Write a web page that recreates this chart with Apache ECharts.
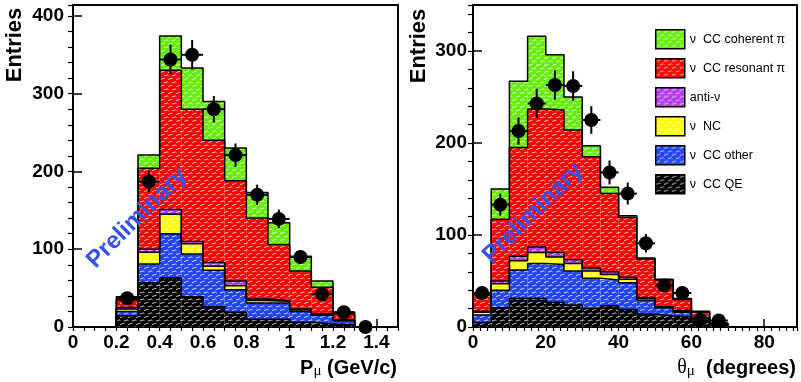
<!DOCTYPE html>
<html>
<head>
<meta charset="utf-8">
<script src="https://cdn.jsdelivr.net/npm/echarts@6/dist/echarts.min.js"></script>
<style>
html, body { margin: 0; padding: 0; background: #fff; }
#main { width: 801px; height: 382px; }
</style>
</head>
<body>
<div id="main"></div>
<script>
// ---- muon momentum (left panel), bin lower edges in GeV/c ----
var pBins = [0.2, 0.3, 0.4, 0.5, 0.6, 0.7, 0.8, 0.9, 1.0, 1.1, 1.2, 1.3];
var pBinWidth = 0.1;
var pQE       = [14, 57, 63, 39, 26, 19, 10, 10, 6, 4, 3, 0];
var pOther    = [6, 24, 57, 55, 47, 29, 21, 21, 14, 11, 5, 0];
var pNC       = [3, 15, 25, 13, 5, 5, 3, 2, 2, 1, 1, 0];
var pAnti     = [2, 4, 6, 3, 5, 6, 2, 1, 1, 1, 0, 0];
var pRes      = [10, 104, 179, 170, 157, 129, 104, 72, 49, 34, 8, 0];
var pCoh      = [4, 17, 44, 53, 50, 42, 33, 28, 19, 8, 2, 0];
var pData     = [37, 187, 344, 350, 280, 221, 170, 139, 90, 42, 19, 0];
var pErr      = [6, 14, 19, 19, 17, 15, 13, 12, 9, 6, 4, 0];

// ---- muon angle (right panel), bin lower edges in degrees ----
var tBins = [0, 5, 10, 15, 20, 25, 30, 35, 40, 45, 50, 55, 60, 65];
var tBinWidth = 5;
var tQE       = [5, 21, 31, 31, 27, 24, 20, 23, 19, 14, 12, 11, 6, 2];
var tOther    = [8, 19, 31, 38, 41, 37, 33, 28, 29, 15, 9, 5, 3, 1];
var tNC       = [3, 7, 10, 12, 8, 8, 8, 6, 4, 2, 1, 1, 1, 0];
var tAnti     = [1, 3, 5, 6, 5, 4, 3, 3, 2, 1, 0, 1, 0, 0];
var tRes      = [18, 67, 118, 150, 155, 141, 121, 85, 65, 42, 29, 12, 6, 1];
var tCoh      = [0, 33, 72, 79, 60, 36, 12, 7, 2, 1, 1, 1, 1, 0];
var tData     = [37, 133, 213, 243, 263, 262, 225, 168, 145, 91, 45, 37, 8, 7];
var tErr      = [6, 12, 15, 16, 16, 16, 15, 13, 12, 10, 7, 6, 3, 3];

// stacking order, bottom to top
var layerNames  = ['ν  CC QE', 'ν  CC other', 'ν  NC', 'anti-ν', 'ν  CC resonant π', 'ν  CC coherent π'];
var layerColors = ['#000000', '#2244ff', '#ffff00', '#b43cf0', '#ff0000', '#66ee08'];

var FONT = '"Liberation Sans", Arial, Helvetica, sans-serif';

var chartDom = document.getElementById('main');
var myChart = echarts.init(chartDom);

// ROOT-like hatched fill: solid colour with short white dashes
function hatchPattern(color) {
	var c = document.createElement('canvas');
	c.width = 8;
	c.height = 7;
	var ctx = c.getContext('2d');
	ctx.fillStyle = color;
	ctx.fillRect(0, 0, 8, 7);
	ctx.strokeStyle = 'rgba(255,255,255,0.75)';
	ctx.lineWidth = 1;
	ctx.beginPath();
	ctx.moveTo(0, 2.5); ctx.lineTo(4.5, 1.2);
	ctx.moveTo(4, 6); ctx.lineTo(8.5, 4.7);
	ctx.moveTo(-0.5, 6.2); ctx.lineTo(0.5, 5.9);
	ctx.stroke();
	return { image: c, repeat: 'repeat' };
}
var layerFills = layerColors.map(hatchPattern);

function errRender(params, api) {
	var x = api.value(0), y = api.value(1), e = api.value(2), hw = api.value(3);
	var top = api.coord([x, y + e]), bot = api.coord([x, y - e]);
	var l = api.coord([x - hw, y]), r = api.coord([x + hw, y]);
	var st = { stroke: '#000', lineWidth: 2 };
	return {
		type: 'group',
		children: [
			{ type: 'line', shape: { x1: top[0], y1: top[1], x2: bot[0], y2: bot[1] }, style: st },
			{ type: 'line', shape: { x1: l[0], y1: l[1], x2: r[0], y2: r[1] }, style: st }
		]
	};
}

function makeRectRender(fill) {
	return function (params, api) {
		var a = api.coord([api.value(0), api.value(3)]);
		var b = api.coord([api.value(1), api.value(2)]);
		return {
			type: 'rect',
			shape: { x: a[0], y: a[1], width: b[0] - a[0], height: b[1] - a[1] },
			style: { fill: fill }
		};
	};
}

function histSeries(g, bins, w, layers, data, err) {
	var out = [];
	var xi = g * 2, yi = g * 2;
	var cum = bins.map(function () { return 0; });
	layers.forEach(function (vals, k) {
		var base = cum.slice();
		cum = cum.map(function (c, i) { return c + vals[i]; });
		out.push({
			type: 'custom',
			name: layerNames[k],
			xAxisIndex: xi,
			yAxisIndex: yi,
			z: 2,
			silent: true,
			itemStyle: { color: layerFills[k], borderColor: '#000', borderWidth: 1.5 },
			encode: { x: [0, 1], y: [2, 3] },
			renderItem: makeRectRender(layerFills[k]),
			data: bins.map(function (b, i) { return [b, b + w, base[i], cum[i]]; })
		});
		// step outline of the cumulative histogram
		var pts = [[bins[0], 0]];
		bins.forEach(function (b, i) {
			pts.push([b, cum[i]]);
			pts.push([b + w, cum[i]]);
		});
		pts.push([bins[bins.length - 1] + w, 0]);
		out.push({
			type: 'line',
			xAxisIndex: xi,
			yAxisIndex: yi,
			z: 3,
			silent: true,
			symbol: 'none',
			lineStyle: { color: '#000', width: 1.5 },
			data: pts
		});
	});
	out.push({
		type: 'custom',
		xAxisIndex: xi,
		yAxisIndex: yi,
		z: 4,
		silent: true,
		renderItem: errRender,
		data: bins.map(function (b, i) { return [b + w / 2, data[i], err[i], w / 2]; })
	});
	out.push({
		type: 'scatter',
		xAxisIndex: xi,
		yAxisIndex: yi,
		z: 5,
		silent: true,
		symbol: 'circle',
		symbolSize: 14,
		itemStyle: { color: '#000', opacity: 1 },
		data: bins.map(function (b, i) { return [b + w / 2, data[i]]; })
	});
	return out;
}

function mainX(grid, max, interval) {
	return {
		type: 'value', gridIndex: grid, min: 0, max: max, interval: interval,
		axisLine: { show: true, lineStyle: { color: '#000', width: 2 } },
		axisTick: { inside: true, length: 8, lineStyle: { color: '#000', width: 1.5 } },
		axisLabel: { color: '#000', fontFamily: FONT, fontWeight: 'bold', fontSize: 19, margin: 6, showMaxLabel: false },
		splitLine: { show: false }
	};
}
function minorX(grid, max, interval) {
	return {
		type: 'value', gridIndex: grid, min: 0, max: max, interval: interval,
		axisLine: { show: false },
		axisTick: { inside: true, length: 4, lineStyle: { color: '#000', width: 1.2 } },
		axisLabel: { show: false },
		splitLine: { show: false }
	};
}
function mainY(grid, max, margin) {
	return {
		type: 'value', gridIndex: grid, min: 0, max: max, interval: 100,
		axisLine: { show: true, lineStyle: { color: '#000', width: 2 } },
		axisTick: { inside: true, length: 9, lineStyle: { color: '#000', width: 1.5 } },
		axisLabel: { color: '#000', fontFamily: FONT, fontWeight: 'bold', fontSize: 19, margin: margin, showMaxLabel: false },
		splitLine: { show: false }
	};
}
function minorY(grid, max) {
	return {
		type: 'value', gridIndex: grid, min: 0, max: max, interval: 20,
		axisLine: { show: false },
		axisTick: { inside: true, length: 5, lineStyle: { color: '#000', width: 1.2 } },
		axisLabel: { show: false },
		splitLine: { show: false }
	};
}

var series = []
	.concat(histSeries(0, pBins, pBinWidth, [pQE, pOther, pNC, pAnti, pRes, pCoh], pData, pErr))
	.concat(histSeries(1, tBins, tBinWidth, [tQE, tOther, tNC, tAnti, tRes, tCoh], tData, tErr));

var option = {
	animation: false,
	backgroundColor: '#fff',
	grid: [
		{ left: 73, top: 5, width: 325, height: 322, show: true, borderColor: '#000', borderWidth: 2 },
		{ left: 473, top: 5, width: 324, height: 322, show: true, borderColor: '#000', borderWidth: 2 }
	],
	xAxis: [
		mainX(0, 1.5, 0.2), minorX(0, 1.5, 0.05),
		mainX(1, 89, 20), minorX(1, 89, 2)
	],
	yAxis: [
		mainY(0, 414, 9), minorY(0, 414),
		mainY(1, 350, 6), minorY(1, 350)
	],
	legend: {
		orient: 'vertical',
		left: 655,
		top: 29,
		padding: 0,
		itemWidth: 29,
		itemHeight: 19,
		itemGap: 8.5,
		icon: 'rect',
		selectedMode: false,
		data: layerNames.slice().reverse(),
		itemStyle: { borderColor: '#000', borderWidth: 1.5 },
		textStyle: { color: '#000', fontFamily: FONT, fontSize: 12.5 }
	},
	graphic: [
		{ type: 'text', x: 14.5, y: 45, rotation: Math.PI / 2, z: 10,
			style: { text: 'Entries', font: 'bold 22px ' + FONT, fill: '#000', align: 'center', verticalAlign: 'middle' } },
		{ type: 'text', x: 418.5, y: 46, rotation: Math.PI / 2, z: 10,
			style: { text: 'Entries', font: 'bold 22px ' + FONT, fill: '#000', align: 'center', verticalAlign: 'middle' } },
		{ type: 'text', x: 397, y: 368, z: 10,
			style: { text: '{a|P}{b|μ}{a| (GeV/c)}', align: 'right', verticalAlign: 'middle',
				rich: {
					a: { fontFamily: FONT, fontWeight: 'bold', fontSize: 20, color: '#000' },
					b: { fontFamily: '"Liberation Serif", serif', fontSize: 15, color: '#000', padding: [7, 0, 0, 0] }
				} } },
		{ type: 'text', x: 796, y: 368, z: 10,
			style: { text: '{c|θ}{b|μ}{a|  (degrees)}', align: 'right', verticalAlign: 'middle',
				rich: {
					a: { fontFamily: FONT, fontWeight: 'bold', fontSize: 20, color: '#000' },
					b: { fontFamily: '"Liberation Serif", serif', fontSize: 15, color: '#000', padding: [7, 0, 0, 0] },
					c: { fontFamily: '"Liberation Serif", serif', fontSize: 20, color: '#000' }
				} } },
		{ type: 'text', x: 137, y: 218, rotation: Math.PI / 4, z: 10,
			style: { text: 'Preliminary', font: 'bold 24px ' + FONT, fill: '#3352f5', align: 'center', verticalAlign: 'middle' } },
		{ type: 'text', x: 533, y: 213, rotation: Math.PI / 4, z: 10,
			style: { text: 'Preliminary', font: 'bold 24px ' + FONT, fill: '#3352f5', align: 'center', verticalAlign: 'middle' } }
	],
	series: series
};
option && myChart.setOption(option);
</script>
</body>
</html>
